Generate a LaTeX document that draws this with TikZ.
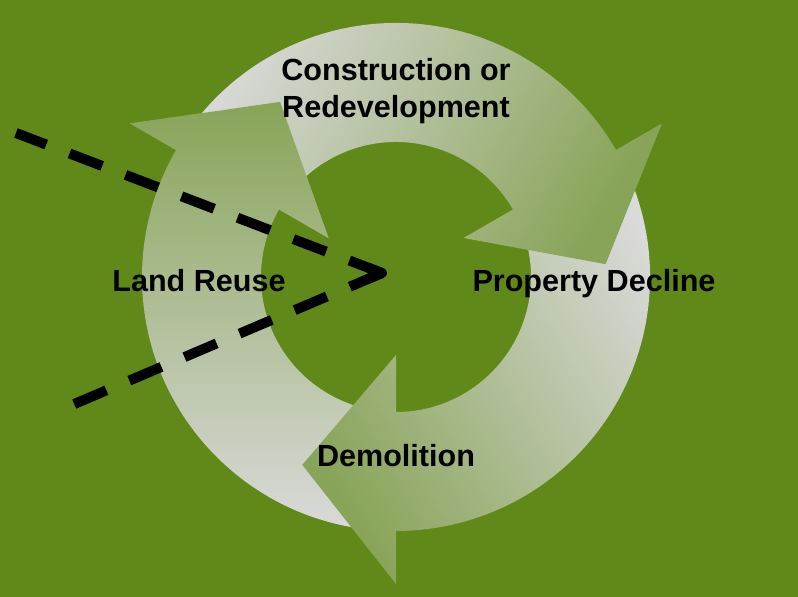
\documentclass[tikz,border=0pt]{standalone}
\usepackage{fontspec}
\setmainfont{Liberation Sans}
\usetikzlibrary{calc}
\definecolor{fieldgreen}{RGB}{96,137,26}
\definecolor{headgreen}{RGB}{136,164,88}
\definecolor{tailgray}{RGB}{218,218,218}
\tikzset{%
	cyclebody/.style = {top color=headgreen, bottom color=tailgray, shading angle=#1},
	stagetext/.style = {font=\bfseries\fontsize{17.4}{21.6}\selectfont, text=black, inner sep=0pt, anchor=base, align=center},
	cutline/.style   = {line width=5.7pt, dash pattern=on 19.9pt off 14.2pt},
}
\newcommand{\cyclearrow}[1]{(#1+118:254) arc[start angle=#1+118, end angle=#1, radius=254] -- (#1:307) -- (#1-26.5:210) -- (#1:78) -- (#1:135) arc[start angle=#1, end angle=#1+118, radius=135] -- cycle}

\begin{document}
\begin{tikzpicture}[x=0.02cm, y=0.02cm]
	\useasboundingbox (0,0) rectangle (798,597);
	\fill[fieldgreen] (0,0) rectangle (798,597);
	\begin{scope}[shift={(396,320)}]
		\shade[cyclebody=0] \cyclearrow{150};
		\shade[cyclebody=120] \cyclearrow{-90};
		\shade[cyclebody=-120] \cyclearrow{30};
		\clip (150:307) -- (123.5:210) -- (150:78) -- cycle;
		\shade[cyclebody=0] \cyclearrow{150};
	\end{scope}
	
	\coordinate (tip) at (382,324);
	\coordinate (upstart) at (16,464);
	\coordinate (lowstart) at (72,192);
	\draw[cutline] (tip) -- (upstart);
	\draw[cutline] (tip) -- (lowstart);
	\draw[line width=5.7pt, line join=round] ($(tip)!0.3cm!(upstart)$) -- (tip) -- ($(tip)!0.3cm!(lowstart)$);
	
	\node[stagetext] (construction) at (396,479) {Construction or\\Redevelopment};
	\node[stagetext] (decline) at (594,305) {Property Decline};
	\node[stagetext] (demolition) at (396,130) {Demolition};
	\node[stagetext] (reuse) at (199,305) {Land Reuse};
\end{tikzpicture}
\end{document}
